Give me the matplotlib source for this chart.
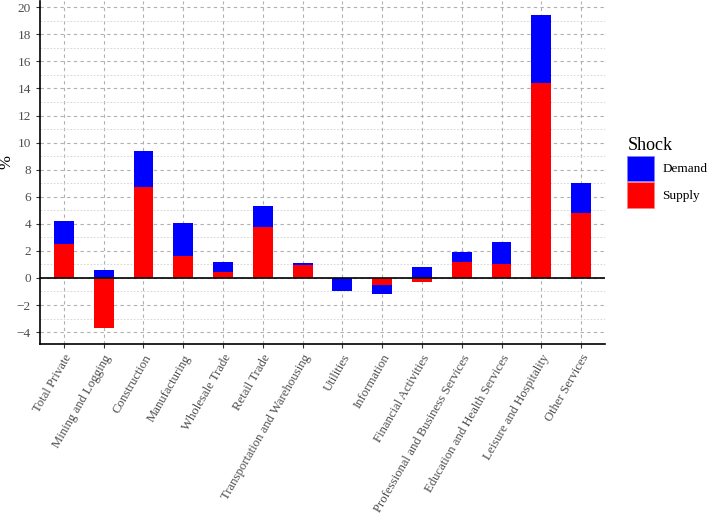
"""Supply and demand shock contributions by industry."""
import matplotlib
matplotlib.use("Agg")
import matplotlib.pyplot as plt
import numpy as np
from matplotlib.patches import Patch

industries = [
    "Total Private", "Mining and Logging", "Construction", "Manufacturing",
    "Wholesale Trade", "Retail Trade", "Transportation and Warehousing",
    "Utilities", "Information", "Financial Activities",
    "Professional and Business Services", "Education and Health Services",
    "Leisure and Hospitality", "Other Services",
]
supply = [2.5, -3.7, 6.7, 1.65, 0.42, 3.77, 0.96, -0.03, -0.52, -0.27, 1.18, 1.03, 14.4, 4.83]
demand = [1.7, 0.57, 2.7, 2.4, 0.74, 1.55, 0.15, -0.92, -0.66, 0.84, 0.72, 1.6, 5.0, 2.15]

plt.rcParams["font.family"] = ["Liberation Serif", "DejaVu Serif"]

fig = plt.figure(figsize=(7.08, 5.13), dpi=100)
ax = fig.add_axes([40 / 708, 1 - 344 / 513, 565 / 708, 343.5 / 513])

x = np.arange(1, len(industries) + 1)
pos_base = np.zeros(len(x))
neg_base = np.zeros(len(x))
for vals, color in [(supply, "#ff0000"), (demand, "#0000ff")]:
    vals = np.array(vals)
    base = np.where(vals >= 0, pos_base, neg_base)
    ax.bar(x, vals, bottom=base, width=0.5, color=color, linewidth=0, zorder=3)
    pos_base += np.where(vals >= 0, vals, 0)
    neg_base += np.where(vals < 0, vals, 0)

ax.axhline(0, color="black", linewidth=1.2, zorder=4)

ax.set_xlim(0.4, len(x) + 0.6)
ax.set_ylim(-4.88, 20.5)
ax.set_yticks(np.arange(-4, 21, 2))
ax.set_yticks(np.arange(-3, 21, 2), minor=True)
ax.set_yticklabels(["\u22124", "\u22122"] + [str(v) for v in range(0, 21, 2)])
ax.set_xticks(x)
ax.set_xticklabels(industries, rotation=60, ha="right", va="top", rotation_mode="anchor")

ax.grid(which="major", axis="both", color="#b0b0b0", linestyle=(0, (3, 3)), linewidth=0.8, zorder=0)
ax.grid(which="minor", axis="y", color="#d0d0d0", linestyle=(0, (2, 2)), linewidth=0.6, zorder=0)

for side in ["top", "right"]:
    ax.spines[side].set_visible(False)
for side in ["left", "bottom"]:
    ax.spines[side].set_linewidth(1.2)
ax.tick_params(axis="both", which="major", labelsize=9.5, labelcolor="#4d4d4d", length=3, color="#333333")
ax.tick_params(axis="x", which="major", labelsize=9.2, pad=3)
ax.tick_params(axis="y", which="minor", length=0)
ax.set_ylabel("%", fontsize=12)
ax.yaxis.set_label_coords(-0.045, 0.53)

handles = [Patch(facecolor="#0000ff", edgecolor="#8080ff", linewidth=0.5, label="Demand"),
           Patch(facecolor="#ff0000", edgecolor="#ff8080", linewidth=0.5, label="Supply")]
fig.legend(handles=handles, title="Shock", loc="upper left", bbox_to_anchor=(622 / 708, 1 - 132 / 513),
           frameon=False, fontsize=9.5, title_fontsize=13, handlelength=2.05, handleheight=2.6,
           handletextpad=0.6, labelspacing=0.1, alignment="left", borderaxespad=0)

fig.savefig("out.png", dpi=100)
